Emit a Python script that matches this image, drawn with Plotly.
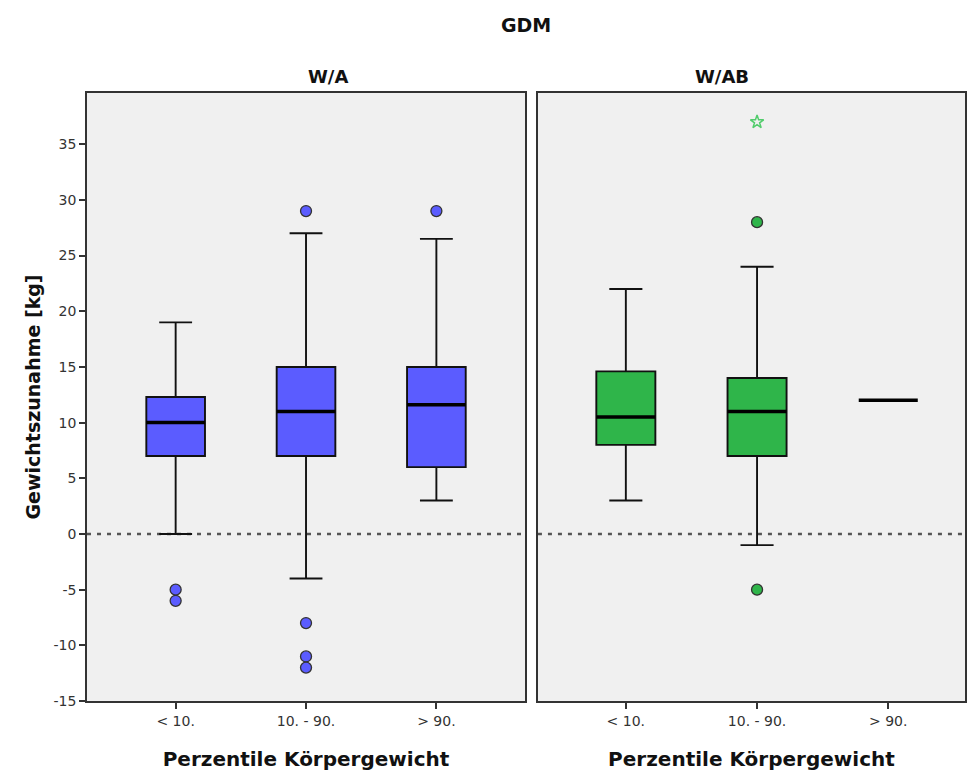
import plotly.graph_objects as go

categories = ["< 10.", "10. - 90.", "> 90."]
y_ticks = [-15, -10, -5, 0, 5, 10, 15, 20, 25, 30, 35]
y_ticklabels = ["-15", "-10", "-5", "0", "5", "10", "15", "20", "25", "30", "35"]

# W/A panel (blue)
wa_lower = [0, -4, 3]
wa_q1 = [7, 7, 6]
wa_median = [10, 11, 11.6]
wa_q3 = [12.3, 15, 15]
wa_upper = [19, 27, 26.5]
wa_outliers = [[-5, -6], [29, -8, -11, -12], [29]]

# W/AB panel (green)
wab_lower = [3, -1, 12]
wab_q1 = [8, 7, 12]
wab_median = [10.5, 11, 12]
wab_q3 = [14.6, 14, 12]
wab_upper = [22, 24, 12]
wab_outliers = [[], [28, -5], []]
wab_extremes = [[], [37], []]

ref_value = 0

BLUE = "#5b5cff"
GREEN = "#2fb54a"
STAR = "#52cc6c"
BOXW = 0.45
FONT = "DejaVu Sans, Liberation Sans, Arial, sans-serif"
TFONT = "DejaVu Sans, Liberation Sans, Arial, sans-serif"

fig = go.Figure()

def add_panel(xa, ya, lower, q1, med, q3, upper, outl, color, extremes=None):
    pos = list(range(len(categories)))
    multi = [i for i in pos if not (lower[i] == q1[i] == med[i] == q3[i] == upper[i])]
    fig.add_trace(go.Box(
        x=[pos[i] for i in multi],
        q1=[q1[i] for i in multi], median=[med[i] for i in multi], q3=[q3[i] for i in multi],
        lowerfence=[lower[i] for i in multi], upperfence=[upper[i] for i in multi],
        width=BOXW, whiskerwidth=0.56, boxpoints=False,
        fillcolor=color, line=dict(color="#111111", width=1.9),
        xaxis=xa, yaxis=ya, showlegend=False, hoverinfo="skip"))
    for i in pos:
        fig.add_trace(go.Scatter(
            x=[i - BOXW / 2, i + BOXW / 2], y=[med[i], med[i]], mode="lines",
            line=dict(color="black", width=3.5), xaxis=xa, yaxis=ya,
            showlegend=False, hoverinfo="skip"))
        if outl[i]:
            fig.add_trace(go.Scatter(
                x=[i] * len(outl[i]), y=outl[i], mode="markers",
                marker=dict(symbol="circle", size=11, color=color,
                            line=dict(color="#333333", width=1.3)),
                xaxis=xa, yaxis=ya, showlegend=False, hoverinfo="skip"))
        if extremes and extremes[i]:
            fig.add_trace(go.Scatter(
                x=[i] * len(extremes[i]), y=extremes[i], mode="markers",
                marker=dict(symbol="star-open", size=10, color=STAR,
                            line=dict(color=STAR, width=1.5)),
                xaxis=xa, yaxis=ya, showlegend=False, hoverinfo="skip"))

add_panel("x", "y", wa_lower, wa_q1, wa_median, wa_q3, wa_upper, wa_outliers, BLUE)
add_panel("x2", "y2", wab_lower, wab_q1, wab_median, wab_q3, wab_upper, wab_outliers, GREEN, wab_extremes)

for xr, yr in [("x domain", "y"), ("x2 domain", "y2")]:
    fig.add_shape(type="line", xref=xr, yref=yr, x0=0, x1=1, y0=ref_value, y1=ref_value,
                  line=dict(color="#555555", width=2.5, dash="4px,6px"), layer="below")

axis_common = dict(showline=True, linecolor="#333333", linewidth=1.5, mirror=True,
                   showgrid=False, zeroline=False, ticks="outside", ticklen=6,
                   tickcolor="#333333", tickwidth=1.5,
                   tickfont=dict(family=FONT, size=14, color="#333333"))

xtitle = dict(text="<b>Perzentile Körpergewicht</b>", font=dict(family=TFONT, size=20, color="#111"), standoff=24)

fig.update_layout(
    width=967, height=775,
    margin=dict(l=87, r=0, t=93, b=74),
    paper_bgcolor="white", plot_bgcolor="#f0f0f0",
    xaxis=dict(domain=[0, 0.4989], range=[-0.68, 2.68], tickvals=[0, 1, 2], ticktext=categories,
               title=xtitle, **axis_common),
    xaxis2=dict(domain=[0.5136, 1], range=[-0.67, 2.585], tickvals=[0, 1, 2], ticktext=categories,
                title=xtitle, anchor="y2", **axis_common),
    yaxis=dict(range=[-15, 39.6], tickvals=y_ticks, ticktext=y_ticklabels,
               title=dict(text="<b>Gewichtszunahme [kg]</b>", font=dict(family=TFONT, size=19, color="#111"), standoff=8),
               **axis_common),
    yaxis2=dict(range=[-15, 39.6], anchor="x2", matches="y", showticklabels=False,
                showline=True, linecolor="#333333", linewidth=1.5, mirror=True,
                showgrid=False, zeroline=False, ticks=""),
    annotations=[
        dict(text="<b>GDM</b>", x=0.5, xref="paper", yref="paper", y=1.0, yanchor="bottom", yshift=55,
             showarrow=False, font=dict(family=TFONT, size=19, color="#111")),
        dict(text="<b>W/A</b>", x=0.2495, xref="paper", yref="paper", y=1.0, yanchor="bottom", yshift=4,
             showarrow=False, font=dict(family=TFONT, size=18, color="#111")),
        dict(text="<b>W/AB</b>", x=0.7568, xref="paper", yref="paper", y=1.0, yanchor="bottom", yshift=4,
             showarrow=False, font=dict(family=TFONT, size=18, color="#111")),
    ],
)

fig.write_html("out.html")
